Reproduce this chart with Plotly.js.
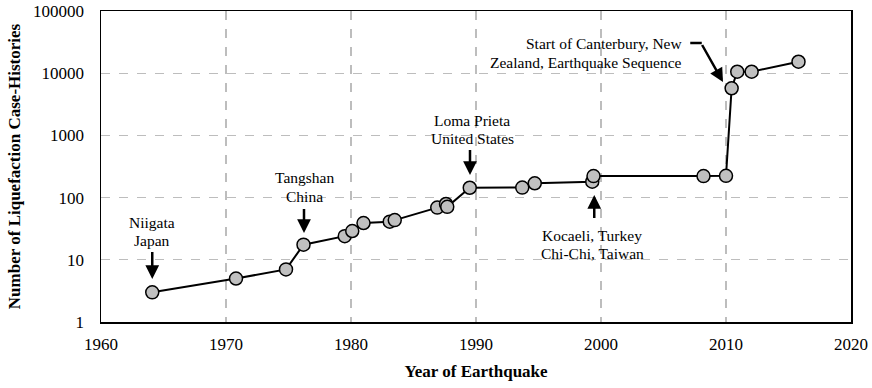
<!DOCTYPE html>
<html>
<head>
<meta charset="utf-8">
<script src="https://cdn.plot.ly/plotly-3.0.1.min.js"></script>
<style>html,body{margin:0;padding:0;background:#fff;}#chart{width:872px;height:388px;}</style>
</head>
<body>
<div id="chart"></div>
<script>
// Data
const years  = [1964.1, 1970.8, 1974.8, 1976.2, 1979.5, 1980.1, 1981.0, 1983.1, 1983.5, 1986.9, 1987.6, 1987.7, 1989.5, 1993.7, 1994.7, 1999.3, 1999.4, 2008.2, 2010.0, 2010.45, 2010.9, 2012.05, 2015.8];
const cases  = [3, 5, 7, 17.5, 24, 29, 39, 41, 43.5, 69, 79, 71, 144, 145, 170, 180, 222, 222, 224, 5720, 10570, 10570, 15300];

const xTicks = [1960, 1970, 1980, 1990, 2000, 2010, 2020];
const yTickVals = [1, 10, 100, 1000, 10000, 100000];
const yTickText = ["1", "10", "100", "1000", "10000", "100000"];

// Event labels
const eventLines = [["Niigata", "Japan"], ["Tangshan", "China"], ["Loma Prieta", "United States"], ["Kocaeli, Turkey", "Chi-Chi, Taiwan"]];
const eventYear  = [1964.1, 1976.24, 1989.52, 1999.46];
const eventValue = [4.9, 27, 231, 110];

// Canterbury label
const cantLines  = ["Start of Canterbury, New", "Zealand, Earthquake Sequence"];
const cantYear   = 2009.76;
const cantValue  = 7220;
const elbowYear  = 2008.06;
const elbowValue = 30600;

// placement (pixels)
const eventArrowAy = [-29, -26, -27, 25];
const eventLineShift = [[57, 39], [55, 36], [54, 36], [-40, -58]];
const eventXShift = [0, 0, 2, -2];

const FONT = "Liberation Serif";
const AFONT = {family: FONT, size: 15.5, color: "#000"};

const trace = {
  x: years, y: cases, type: "scatter", mode: "lines+markers",
  line: {color: "#000", width: 2},
  marker: {symbol: "circle", size: 13, color: "#c0c0c0", line: {color: "#000", width: 1.5}},
  hoverinfo: "x+y"
};

const annotations = [];
eventLines.forEach((lines, i) => {
  annotations.push({
    x: eventYear[i], y: Math.log10(eventValue[i]), xref: "x", yref: "y",
    text: " ", font: {size: 1}, showarrow: true, arrowhead: 2, arrowsize: 1.1, arrowwidth: 2.5,
    arrowcolor: "#000", ax: 0, ay: eventArrowAy[i], standoff: 0
  });
  lines.forEach((ln, j) => {
    annotations.push({
      x: eventYear[i], y: Math.log10(eventValue[i]), xref: "x", yref: "y",
      text: ln, showarrow: false, xanchor: "center", yanchor: "middle",
      xshift: eventXShift[i], yshift: eventLineShift[i][j], font: AFONT
    });
  });
});

cantLines.forEach((ln, j) => {
  annotations.push({
    x: cantYear, y: Math.log10(cantValue), xref: "x", yref: "y",
    text: ln, showarrow: false, xanchor: "right", yanchor: "middle",
    xshift: -39, yshift: [39, 20][j], font: AFONT
  });
});
annotations.push({
  x: cantYear, y: Math.log10(cantValue), xref: "x", yref: "y", text: " ",
  font: {size: 1}, showarrow: true, arrowhead: 2, arrowsize: 1.1, arrowwidth: 2.5,
  arrowcolor: "#000", ax: -22, ay: -39, standoff: 0
});
annotations.push({
  x: elbowYear, y: Math.log10(elbowValue), xref: "x", yref: "y", text: " ",
  font: {size: 1}, showarrow: true, arrowhead: 0, arrowwidth: 2.5,
  arrowcolor: "#000", ax: -13, ay: 0, standoff: 0
});

const layout = {
  width: 872, height: 388,
  margin: {l: 101, r: 21, t: 11, b: 66},
  paper_bgcolor: "#fff", plot_bgcolor: "#fff",
  showlegend: false,
  font: {family: FONT, size: 17, color: "#000"},
  xaxis: {
    range: [1960, 2020], tickvals: xTicks, ticks: "", ticklabelstandoff: 6,
    showgrid: true, gridcolor: "#bdbdbd", griddash: "dash", gridwidth: 1.3,
    showline: true, mirror: true, linecolor: "#000", linewidth: 1.5, zeroline: false,
    tickfont: {family: FONT, size: 17, color: "#000"},
    title: {text: "<b>Year of Earthquake</b>", font: {family: FONT, size: 17, color: "#000"}, standoff: 12}
  },
  yaxis: {
    type: "log", range: [0, 5], tickvals: yTickVals, ticktext: yTickText, ticks: "", ticklabelstandoff: 12,
    showgrid: true, gridcolor: "#bdbdbd", griddash: "dash", gridwidth: 1.3,
    showline: true, mirror: true, linecolor: "#000", linewidth: 1.5, zeroline: false,
    tickfont: {family: FONT, size: 17, color: "#000"},
    title: {text: "<b>Number of Liquefaction Case-Histories</b>", font: {family: FONT, size: 17, color: "#000"}, standoff: 8}
  },
  annotations: annotations
};

Plotly.newPlot("chart", [trace], layout, {displayModeBar: false, staticPlot: true});
</script>
</body>
</html>
